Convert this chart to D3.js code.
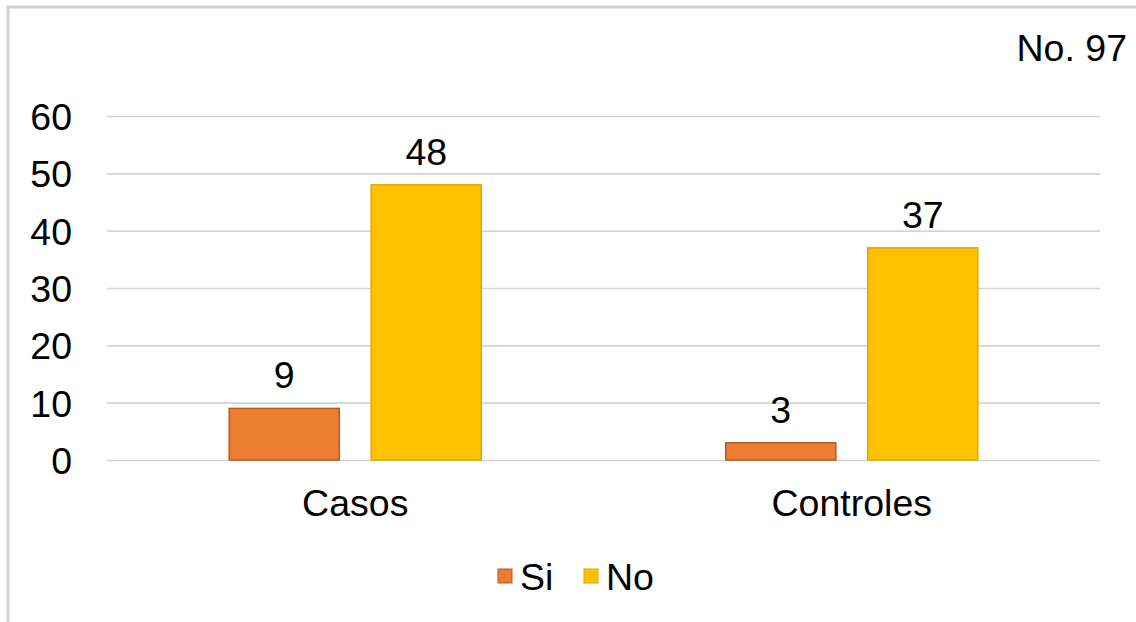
<!DOCTYPE html>
<html>
<head>
<meta charset="utf-8">
<script src="https://cdn.jsdelivr.net/npm/d3@7"></script>
<style>
  html, body { margin: 0; padding: 0; background: #fff; }
  svg { display: block; font-family: Arial, "Liberation Sans", sans-serif; }
</style>
</head>
<body>
<svg id="chart" width="1136" height="622"></svg>
<script>
// Chart data
const categories = ["Casos", "Controles"];
const seriesNames = ["Si", "No"];
const siValues = [9, 3];
const noValues = [48, 37];
const yTicks = [0, 10, 20, 30, 40, 50, 60];
const noteText = "No. 97";

const colors = { Si: "#ED7D31", No: "#FFC000" };
const strokes = { Si: "#B85A1E", No: "#E0A800" };

const rows = categories.map((c, i) => ({ category: c, Si: siValues[i], No: noValues[i] }));

const svg = d3.select("#chart");
const W = 1136, H = 622;
const FS = 37.5;
const margin = { left: 107, right: 36, top: 116, bottom: 162 };
const plotW = W - margin.left - margin.right;
const plotH = H - margin.top - margin.bottom;
const groupW = 252;

// Outer frame
svg.append("rect")
  .attr("x", 8).attr("y", 7)
  .attr("width", W + 20).attr("height", H + 20)
  .attr("fill", "#fff")
  .attr("stroke", "#d0d0d0").attr("stroke-width", 3);

const g = svg.append("g").attr("transform", `translate(${margin.left},${margin.top})`);

const x0 = d3.scaleBand().domain(categories).range([0, plotW]).padding(0);
const x1 = d3.scaleBand().domain(seriesNames).range([0, groupW]).paddingInner(0.225).paddingOuter(0);
const y = d3.scaleLinear().domain([0, 60]).range([plotH, 0]);

// Gridlines and value ticks
const yAxis = d3.axisLeft(y).tickValues(yTicks).tickSize(-plotW).tickPadding(35);
const ya = g.append("g").call(yAxis);
ya.select(".domain").remove();
ya.selectAll(".tick line").attr("stroke", "#d4d4d4").attr("stroke-width", 1.6);
ya.selectAll(".tick text")
  .attr("font-size", FS).attr("fill", "#000")
  .attr("font-family", "Arial, 'Liberation Sans', sans-serif")
  .attr("dy", "0.36em");

// Category labels
const xAxis = d3.axisBottom(x0).tickSize(0).tickPadding(29);
const xa = g.append("g").attr("transform", `translate(0,${plotH})`).call(xAxis);
xa.select(".domain").remove();
xa.selectAll(".tick text")
  .attr("font-size", FS).attr("fill", "#000")
  .attr("font-family", "Arial, 'Liberation Sans', sans-serif");

// Bars
const groups = g.selectAll(".grp").data(rows).join("g")
  .attr("class", "grp")
  .attr("transform", d => `translate(${x0(d.category) + x0.bandwidth() / 2 - groupW / 2},0)`);

groups.selectAll("rect").data(d => seriesNames.map(s => ({ key: s, value: d[s] }))).join("rect")
  .attr("x", d => x1(d.key))
  .attr("width", x1.bandwidth())
  .attr("y", d => y(d.value))
  .attr("height", d => y(0) - y(d.value))
  .attr("fill", d => colors[d.key])
  .attr("stroke", d => strokes[d.key])
  .attr("stroke-width", 1.5);

// Value labels
groups.selectAll("text.val").data(d => seriesNames.map(s => ({ key: s, value: d[s] }))).join("text")
  .attr("class", "val")
  .attr("x", d => x1(d.key) + x1.bandwidth() / 2)
  .attr("y", d => y(d.value) - 20)
  .attr("text-anchor", "middle")
  .attr("font-size", FS)
  .attr("fill", "#000")
  .text(d => d.value);

// Note in the top-right corner
svg.append("text")
  .attr("x", 1127).attr("y", 61)
  .attr("text-anchor", "end")
  .attr("font-size", FS)
  .attr("fill", "#000")
  .text(noteText);

// Legend
const legend = svg.append("g").attr("transform", "translate(498,576)");
const legendX = { Si: 0, No: 86 };
seriesNames.forEach(s => {
  const lg = legend.append("g").attr("transform", `translate(${legendX[s]},0)`);
  lg.append("rect")
    .attr("x", 0).attr("y", -7).attr("width", 14).attr("height", 14)
    .attr("fill", colors[s]).attr("stroke", strokes[s]).attr("stroke-width", 1);
  lg.append("text")
    .attr("x", 22).attr("y", 0).attr("dy", "0.36em")
    .attr("font-size", FS).attr("fill", "#000")
    .text(s);
});
</script>
</body>
</html>
